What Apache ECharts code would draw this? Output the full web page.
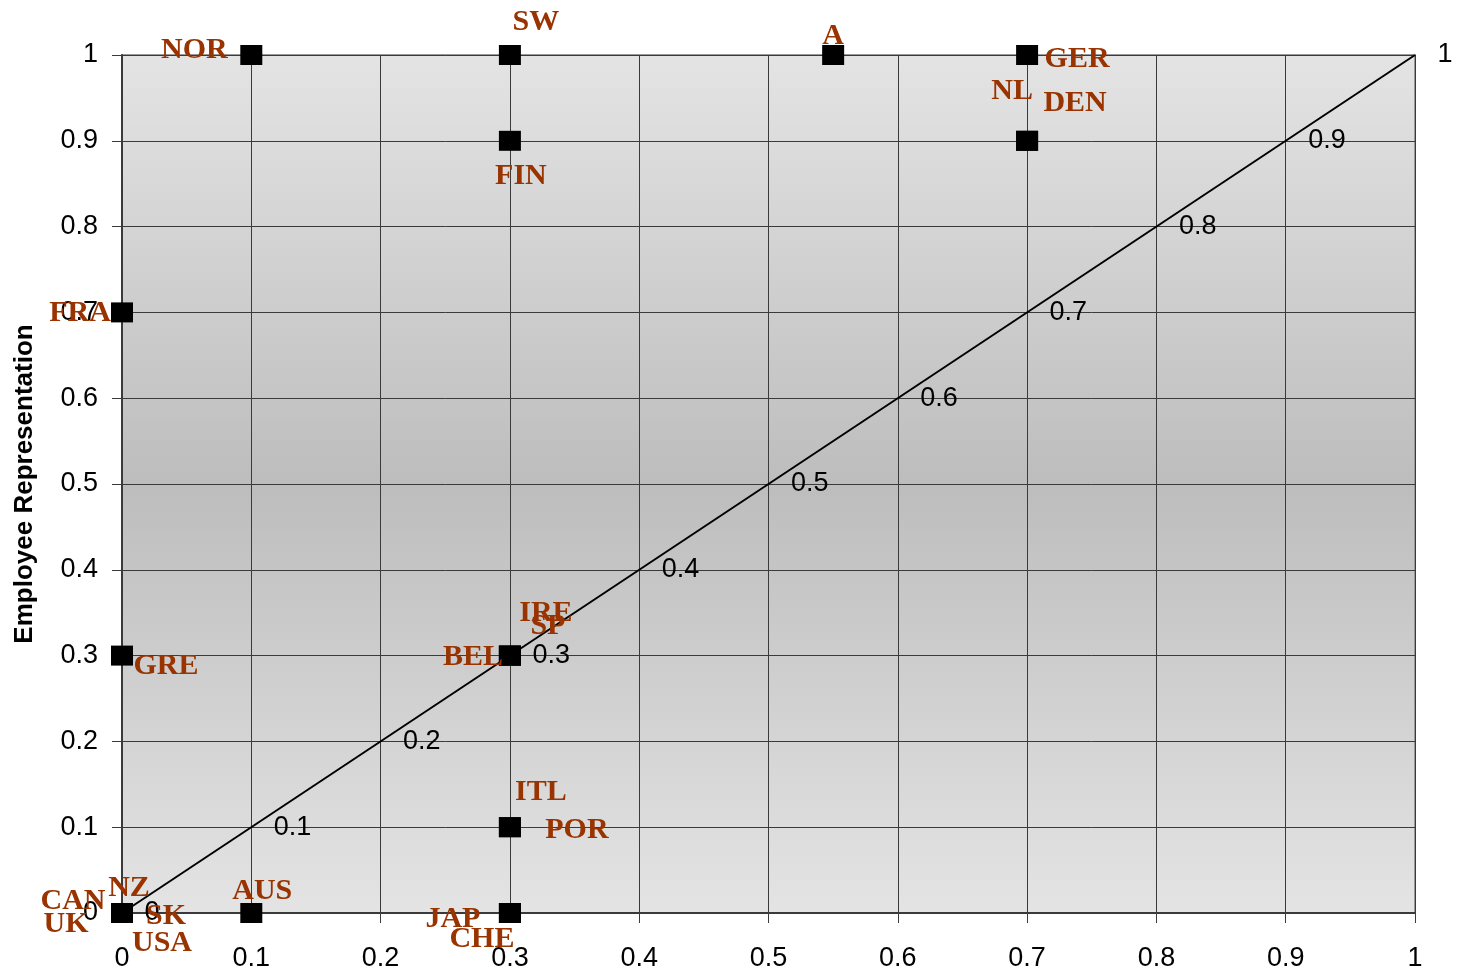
<!DOCTYPE html>
<html>
<head>
<meta charset="utf-8">
<script src="https://cdn.jsdelivr.net/npm/echarts@6/dist/echarts.min.js"></script>
<style>
html,body{margin:0;padding:0;background:#fff;}
#chart{width:1466px;height:977px;}
</style>
</head>
<body>
<div id="chart"></div>
<script>
// ---- data ----
const countries = ['NOR','SW','A','GER','NL','DEN','FIN','FRA','GRE','BEL','IRE','SP','ITL','POR','JAP','CHE','AUS','CAN','UK','NZ','SK','USA'];
const xValues   = [0.1, 0.3, 0.55, 0.7, 0.7, 0.7, 0.3, 0,   0,   0.3, 0.3, 0.3, 0.3, 0.3, 0.3, 0.3, 0.1, 0, 0, 0, 0, 0];
const yValues   = [1,   1,   1,    1,   0.9, 0.9, 0.9, 0.7, 0.3, 0.3, 0.3, 0.3, 0.1, 0.1, 0,   0,   0,   0, 0, 0, 0, 0];
const diagonalTicks = [0, 0.1, 0.2, 0.3, 0.4, 0.5, 0.6, 0.7, 0.8, 0.9, 1];
const yAxisTitle = 'Employee Representation';

// ---- label placement (style, not data) ----
const labelOffsets = {
  NOR:[-57,-5], SW:[26,-33], A:[0,-19], GER:[50,4], NL:[-15,-50], DEN:[48,-38],
  FIN:[11,35], FRA:[-42,1], GRE:[44,11], BEL:[-37,2], IRE:[36,-42], SP:[38,-29],
  ITL:[31,-35], POR:[67,3], JAP:[-57,6], CHE:[-28,26], AUS:[11,-22], CAN:[-49,-12],
  UK:[-56,11], NZ:[7,-25], SK:[44,3], USA:[40,30]
};

const pointData = countries.map((c, i) => ({ name: c, value: [xValues[i], yValues[i]] }));

const chart = echarts.init(document.getElementById('chart'), null, {renderer:'canvas'});
const sans = 'Liberation Sans, Arial, sans-serif';
const serif = 'Liberation Serif, Times New Roman, serif';

const axisCommon = {
  type: 'value', min: 0, max: 1, interval: 0.1,
  axisLine: { show: true, lineStyle: { color: '#3a3a3a', width: 2 } },
  axisTick: { show: true, length: 10, lineStyle: { color: '#3a3a3a', width: 1 } },
  splitLine: { show: true, lineStyle: { color: '#3a3a3a', width: 1 } },
  axisLabel: { color: '#000', fontSize: 27, fontFamily: sans }
};

chart.setOption({
  animation: false,
  backgroundColor: '#fff',
  grid: {
    left: 122, right: 51, top: 55, bottom: 64,
    show: true, borderColor: '#999', borderWidth: 2,
    backgroundColor: new echarts.graphic.LinearGradient(0, 0, 0, 1, [
      { offset: 0, color: '#e4e4e4' },
      { offset: 0.5, color: '#bdbdbd' },
      { offset: 1, color: '#e4e4e4' }
    ])
  },
  xAxis: Object.assign({}, axisCommon, {
    axisLabel: Object.assign({}, axisCommon.axisLabel, { margin: 32 })
  }),
  yAxis: Object.assign({}, axisCommon, {
    axisLabel: Object.assign({}, axisCommon.axisLabel, { margin: 24 }),
    name: yAxisTitle, nameLocation: 'middle', nameGap: 84, nameRotate: 90,
    nameTextStyle: { fontSize: 26, fontWeight: 'bold', fontFamily: sans, color: '#000' }
  }),
  series: [
    {
      type: 'line',
      data: [[diagonalTicks[0], diagonalTicks[0]], [diagonalTicks[diagonalTicks.length-1], diagonalTicks[diagonalTicks.length-1]]],
      showSymbol: false, symbol: 'none',
      lineStyle: { color: '#000', width: 2, opacity: 1 },
      z: 3, silent: true
    },
    {
      type: 'scatter',
      data: diagonalTicks.map(v => [v, v]),
      symbolSize: 1,
      itemStyle: { color: 'rgba(0,0,0,0)', opacity: 1 },
      label: {
        show: true, position: 'right', distance: 22,
        formatter: p => String(p.value[0]),
        color: '#000', fontSize: 27, fontFamily: sans
      },
      clip: false, z: 4, silent: true
    },
    {
      type: 'scatter',
      data: pointData,
      symbol: 'rect',
      symbolSize: [22, 20],
      itemStyle: { color: '#000', opacity: 1 },
      label: {
        show: true, position: 'inside',
        formatter: p => p.name,
        color: '#993300', fontSize: 30, fontWeight: 'bold', fontFamily: serif
      },
      labelLayout: function (params) {
        const off = labelOffsets[countries[params.dataIndex]] || [0, 0];
        return { dx: off[0], dy: off[1], hideOverlap: false };
      },
      clip: false, z: 5, silent: true
    }
  ]
});
</script>
</body>
</html>
